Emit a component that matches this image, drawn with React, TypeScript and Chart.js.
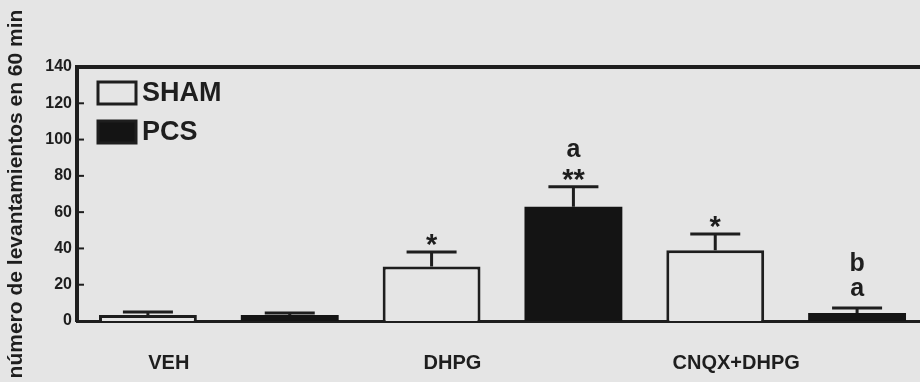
import React, { useEffect, useRef } from 'react';
import { Chart, registerables } from 'chart.js';

Chart.register(...registerables);

const categories = ['VEH', 'DHPG', 'CNQX+DHPG'];
const seriesNames = ['SHAM', 'PCS'];
const shamValues = [3.3, 30, 39];
const shamErrors = [1.6, 8, 9];
const pcsValues = [3.3, 63, 4.4];
const pcsErrors = [1.1, 11, 2.8];
const shamMarks: string[][] = [[], ['*'], ['*']];
const pcsMarks: string[][] = [[], ['a', '**'], ['b', 'a']];
const yTicks = [0, 20, 40, 60, 80, 100, 120, 140];
const yTitle = 'número de levantamientos en 60 min';

const INK = '#1e1e1e';
const BG = '#e5e5e5';
const FONT = "'Liberation Sans', Arial, Helvetica, sans-serif";

const overlayPlugin = {
  id: 'overlay',
  afterDatasetsDraw(chart: any) {
    const ctx = chart.ctx;
    const { left, right, top } = chart.chartArea;
    const y = chart.scales.y;
    ctx.save();
    // top frame line
    ctx.strokeStyle = INK;
    ctx.lineWidth = 4;
    ctx.beginPath();
    ctx.moveTo(left - 2, top);
    ctx.lineTo(right, top);
    ctx.stroke();
    // small tick marks next to the axis
    ctx.lineWidth = 2;
    yTicks.forEach((v) => {
      if (v === yTicks[0] || v === yTicks[yTicks.length - 1]) return;
      const py = y.getPixelForValue(v);
      ctx.beginPath();
      ctx.moveTo(left + 2, py);
      ctx.lineTo(left + 7, py);
      ctx.stroke();
    });
    // error bars and significance marks
    chart.data.datasets.forEach((ds: any, di: number) => {
      const meta = chart.getDatasetMeta(di);
      meta.data.forEach((el: any, i: number) => {
        const v = ds.data[i];
        const e = ds.errors[i];
        const x = el.x;
        const yb = y.getPixelForValue(v);
        const yt = y.getPixelForValue(v + e);
        ctx.strokeStyle = INK;
        ctx.lineWidth = 3;
        ctx.beginPath();
        ctx.moveTo(x, yb);
        ctx.lineTo(x, yt);
        ctx.moveTo(x - 25, yt);
        ctx.lineTo(x + 25, yt);
        ctx.stroke();
        const marks: string[] = ds.marks[i];
        let base = yt;
        ctx.fillStyle = INK;
        ctx.textAlign = 'center';
        ctx.textBaseline = 'alphabetic';
        for (let k = marks.length - 1; k >= 0; k--) {
          const m = marks[k];
          if (m.startsWith('*')) {
            ctx.font = `bold 29px ${FONT}`;
            const b = base - 1;
            ctx.fillText(m, x, b + 3);
            base = b - 17;
          } else {
            ctx.font = `bold 25px ${FONT}`;
            const b = base - 12;
            ctx.fillText(m, x, b);
            base = b - 13;
          }
        }
      });
    });
    // legend inside plot
    const lx = left + 21;
    chart.data.datasets.forEach((ds: any, di: number) => {
      const by = top + 15 + di * 39;
      ctx.fillStyle = ds.backgroundColor;
      ctx.fillRect(lx, by, 38, 22);
      ctx.strokeStyle = INK;
      ctx.lineWidth = 3;
      ctx.strokeRect(lx, by, 38, 22);
      ctx.fillStyle = INK;
      ctx.font = `bold 27px ${FONT}`;
      ctx.textAlign = 'left';
      ctx.textBaseline = 'middle';
      ctx.fillText(ds.label, lx + 44, by + 12);
    });
    ctx.restore();
  },
};

export default function App() {
  const ref = useRef<HTMLCanvasElement | null>(null);
  useEffect(() => {
    if (!ref.current) return;
    const chart = new Chart(ref.current, {
      type: 'bar',
      data: {
        labels: categories,
        datasets: [
          {
            label: seriesNames[0],
            data: shamValues,
            errors: shamErrors,
            marks: shamMarks,
            backgroundColor: BG,
            borderColor: INK,
            borderWidth: 3,
            borderSkipped: 'start',
          } as any,
          {
            label: seriesNames[1],
            data: pcsValues,
            errors: pcsErrors,
            marks: pcsMarks,
            backgroundColor: '#141414',
            borderColor: '#141414',
            borderWidth: 0,
          } as any,
        ],
      },
      options: {
        animation: false,
        responsive: true,
        maintainAspectRatio: false,
        datasets: { bar: { categoryPercentage: 1, barPercentage: 0.69 } },
        layout: { padding: { top: 67, right: 2, left: 0, bottom: 0 } },
        plugins: { legend: { display: false }, tooltip: { enabled: false } },
        scales: {
          x: {
            z: 1,
            grid: { display: false, drawTicks: false },
            border: { display: true, color: INK, width: 3 },
            ticks: {
              color: INK,
              font: { family: FONT, size: 20, weight: 'bold' },
              padding: 30,
              labelOffset: -50,
            },
            afterFit: (s: any) => {
              s.height = 61;
            },
          },
          y: {
            min: 0,
            max: 140,
            grid: { display: false, drawTicks: false },
            border: { display: true, color: INK, width: 4 },
            afterBuildTicks: (s: any) => {
              s.ticks = yTicks.map((v) => ({ value: v }));
            },
            ticks: {
              color: INK,
              font: { family: FONT, size: 16, weight: 'bold' },
              padding: 5,
            },
            title: {
              display: true,
              text: yTitle,
              color: INK,
              font: { family: FONT, size: 21, weight: 'bold' },
              padding: { top: 4, bottom: 0 },
            },
            afterFit: (s: any) => {
              s.width = 77;
            },
          },
        },
      },
      plugins: [overlayPlugin],
    });
    return () => chart.destroy();
  }, []);
  return (
    <div
      style={{
        position: 'fixed',
        left: 0,
        top: 0,
        width: 920,
        height: 382,
        overflow: 'hidden',
        background: BG,
      }}
    >
      <div style={{ position: 'relative', width: 930, height: 382 }}>
        <canvas ref={ref} />
      </div>
    </div>
  );
}
